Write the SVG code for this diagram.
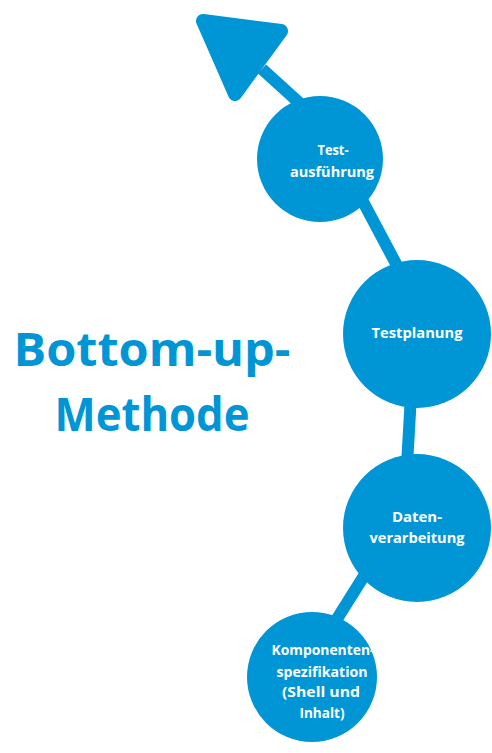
<svg xmlns="http://www.w3.org/2000/svg" width="492" height="753" viewBox="0 0 492 753">
<style>
.c{fill:#0096D6}
.l{stroke:#0096D6;stroke-width:12;fill:none}
.t{fill:#fff;font-family:"Open Sans","DejaVu Sans",sans-serif;font-weight:bold;font-size:15px;text-anchor:middle}
.h{fill:#0096D6;font-family:"Open Sans","DejaVu Sans",sans-serif;font-weight:bold;font-size:47px;text-anchor:middle}
</style>
<rect width="492" height="753" fill="#fff"/>
<g id="connectors">
<line class="l" x1="262" y1="69" x2="305" y2="108"/>
<line class="l" x1="360" y1="196" x2="402" y2="275"/>
<line class="l" x1="411" y1="395" x2="407" y2="465"/>
<line class="l" x1="374" y1="560" x2="330" y2="630"/>
<polygon points="203,21 281,31 235,94" fill="#0096D6" stroke="#0096D6" stroke-width="14" stroke-linejoin="round"/>
</g>
<g id="title">
<text class="h" x="152" y="366" textLength="277" lengthAdjust="spacingAndGlyphs">Bottom-up-</text>
<text class="h" x="152" y="431" textLength="195" lengthAdjust="spacingAndGlyphs">Methode</text>
</g>
<g id="n1">
<circle class="c" cx="320" cy="159" r="63"/>
<text class="t" x="333" y="155" textLength="31" lengthAdjust="spacingAndGlyphs">Test-</text>
<text class="t" x="332" y="177" textLength="84" lengthAdjust="spacingAndGlyphs">ausführung</text>
</g>
<g id="n2">
<circle class="c" cx="417" cy="334" r="74"/>
<text class="t" x="417" y="338" textLength="91" lengthAdjust="spacingAndGlyphs">Testplanung</text>
</g>
<g id="n3">
<circle class="c" cx="417" cy="528" r="74"/>
<text class="t" x="417" y="522" textLength="50" lengthAdjust="spacingAndGlyphs">Daten-</text>
<text class="t" x="417" y="543" textLength="95" lengthAdjust="spacingAndGlyphs">verarbeitung</text>
</g>
<g id="n4">
<circle class="c" cx="312" cy="677" r="65"/>
<text class="t" x="323" y="655" textLength="103" lengthAdjust="spacingAndGlyphs">Komponenten-</text>
<text class="t" x="322" y="677" textLength="91" lengthAdjust="spacingAndGlyphs">spezifikation</text>
<text class="t" x="321" y="697" textLength="78" lengthAdjust="spacingAndGlyphs">(Shell und</text>
<text class="t" x="322" y="718" textLength="45" lengthAdjust="spacingAndGlyphs">Inhalt)</text>
</g>
</svg>
